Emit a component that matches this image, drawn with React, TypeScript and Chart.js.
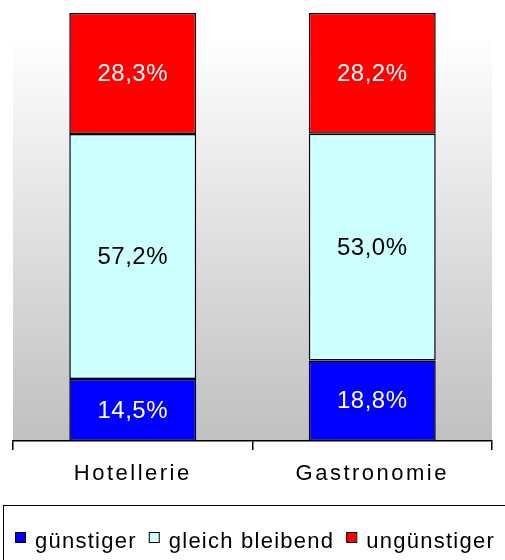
import React, { useEffect, useRef } from "react";
import { Chart, registerables } from "chart.js";

Chart.register(...registerables);

const categories = ["Hotellerie", "Gastronomie"];
const seriesNames = ["günstiger", "gleich bleibend", "ungünstiger"];
const guenstiger = [14.5, 18.8];
const gleichBleibend = [57.2, 53.0];
const unguenstiger = [28.3, 28.2];
const seriesColors = ["#0000FF", "#CCFFFF", "#FF0000"];
const labelColors = ["#FFFFFF", "#000000", "#FFFFFF"];
const FONT = "'Liberation Sans', Arial, sans-serif";

const bgPlugin = {
  id: "bgGradient",
  beforeDraw(chart: any) {
    const { ctx, chartArea: a } = chart;
    const g = ctx.createLinearGradient(0, a.top, 0, a.bottom);
    g.addColorStop(0, "#ffffff");
    g.addColorStop(0.05, "#ffffff");
    g.addColorStop(1, "#c0c0c0");
    ctx.save();
    ctx.fillStyle = g;
    ctx.fillRect(a.left, a.top, a.right - a.left, a.bottom - a.top);
    ctx.restore();
    (ctx as any).letterSpacing = "2.5px";
  },
};

const labelPlugin = {
  id: "segLabels",
  afterDatasetsDraw(chart: any) {
    const ctx = chart.ctx;
    ctx.save();
    (ctx as any).letterSpacing = "0.5px";
    ctx.font = `24px ${FONT}`;
    ctx.textAlign = "center";
    ctx.textBaseline = "middle";
    chart.data.datasets.forEach((ds: any, di: number) => {
      const meta = chart.getDatasetMeta(di);
      meta.data.forEach((el: any, i: number) => {
        const { x, y, base } = el.getProps(["x", "y", "base"], true);
        const v = ds.data[i] as number;
        ctx.fillStyle = labelColors[di];
        ctx.fillText(v.toFixed(1).replace(".", ",") + "%", x, (y + base) / 2 + 1);
      });
    });
    ctx.restore();
  },
};

const legendPlugin = {
  id: "boxLegend",
  afterDraw(chart: any) {
    const ctx = chart.ctx;
    ctx.save();
    (ctx as any).letterSpacing = "1.25px";
    ctx.strokeStyle = "#000";
    ctx.lineWidth = 1;
    ctx.strokeRect(3.5, 505.5, 1000, 200);
    ctx.font = `22px ${FONT}`;
    ctx.textBaseline = "alphabetic";
    ctx.textAlign = "left";
    let x = 15;
    chart.data.datasets.forEach((ds: any) => {
      ctx.fillStyle = ds.backgroundColor;
      ctx.fillRect(x, 532, 10, 10);
      ctx.strokeStyle = "#000";
      ctx.strokeRect(x + 0.5, 532.5, 10, 10);
      ctx.fillStyle = "#000";
      ctx.fillText(ds.label, x + 20, 548);
      x += 20 + ctx.measureText(ds.label).width + 12;
    });
    ctx.restore();
  },
};

export default function App() {
  const ref = useRef<HTMLCanvasElement>(null);
  useEffect(() => {
    if (!ref.current) return;
    const values = [guenstiger, gleichBleibend, unguenstiger];
    const chart = new Chart(ref.current, {
      type: "bar",
      data: {
        labels: categories,
        datasets: seriesNames.map((name, i) => ({
          label: name,
          data: values[i],
          backgroundColor: seriesColors[i],
          borderColor: "#000",
          borderWidth: 1.5,
          borderSkipped: false,
          barPercentage: 0.53,
          categoryPercentage: 1.0,
        })),
      },
      options: {
        responsive: false,
        animation: false,
        layout: { padding: { left: 13, right: 13, top: 13, bottom: 61.6 } },
        plugins: { legend: { display: false }, tooltip: { enabled: false } },
        scales: {
          x: {
            stacked: true,
            grid: {
              display: true,
              drawOnChartArea: false,
              drawTicks: true,
              tickLength: 9,
              color: "#000",
              lineWidth: 1.5,
            },
            border: { display: true, color: "#000", width: 1.5 },
            ticks: {
              color: "#000",
              font: { family: FONT, size: 22 },
              padding: 11,
              maxRotation: 0,
              autoSkip: false,
            },
          },
          y: { stacked: true, display: false, min: 0, max: 100 },
        },
      },
      plugins: [bgPlugin, labelPlugin, legendPlugin],
    });
    return () => chart.destroy();
  }, []);
  return (
    <div style={{ position: "absolute", left: 0, top: 0, width: 505, height: 560, overflow: "hidden", background: "#fff" }}>
      <canvas ref={ref} width={505} height={560} style={{ display: "block" }} />
    </div>
  );
}
